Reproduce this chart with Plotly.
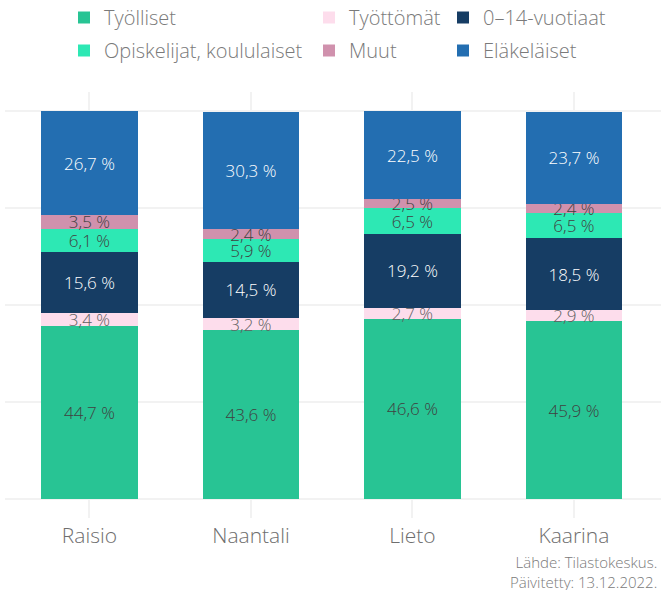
import plotly.graph_objects as go

categories = ["Raisio", "Naantali", "Lieto", "Kaarina"]

tyolliset = [44.7, 43.6, 46.6, 45.9]
tyottomat = [3.4, 3.2, 2.7, 2.9]
lapset = [15.6, 14.5, 19.2, 18.5]
opiskelijat = [6.1, 5.9, 6.5, 6.5]
muut = [3.5, 2.4, 2.5, 2.4]
elakelaiset = [26.7, 30.3, 22.5, 23.7]

series = [
    ("Työlliset", tyolliset, "#28C494", "#404040", "legend"),
    ("Työttömät", tyottomat, "#FDDDEC", "#606060", "legend2"),
    ("0–14-vuotiaat", lapset, "#163D64", "#FFFFFF", "legend3"),
    ("Opiskelijat, koululaiset", opiskelijat, "#2DE8B4", "#404040", "legend"),
    ("Muut", muut, "#D091AD", "#404040", "legend2"),
    ("Eläkeläiset", elakelaiset, "#236EB1", "#FFFFFF", "legend3"),
]

FONT = "Open Sans"

def fmt(v):
    return f"{v:.1f}".replace(".", ",") + " %"

fig = go.Figure()
for i, (name, vals, color, tcolor, leg) in enumerate(series):
    fig.add_trace(go.Bar(
        name=name,
        x=categories,
        y=vals,
        marker=dict(color=color, line=dict(width=0)),
        text=[fmt(v) for v in vals],
        textposition="inside",
        insidetextanchor="middle",
        constraintext="none",
        textangle=0,
        textfont=dict(family=FONT, size=17, color=tcolor, weight=300),
        legend=leg,
        legendgroup=f"g{i}",
        hoverinfo="skip",
    ))

W, H = 661, 590
L, R, T, B = 5, 0, 92, 72
PW, PH = W - L - R, H - T - B

def px_x(x):
    return (x - L) / PW

def px_y(y):
    return (H - B - y) / PH

def legend_cfg(x_px):
    return dict(
        orientation="v",
        xref="paper", yref="paper",
        x=px_x(x_px), y=px_y(-2),
        xanchor="left", yanchor="top",
        traceorder="grouped",
        tracegroupgap=4,
        font=dict(family=FONT, size=20, color="#7A7A7A", weight=300),
        bgcolor="rgba(0,0,0,0)",
        itemclick=False, itemdoubleclick=False,
    )

fig.update_layout(
    width=W, height=H,
    barmode="stack",
    bargap=0.4,
    plot_bgcolor="white",
    paper_bgcolor="white",
    margin=dict(l=L, r=R, t=T, b=B, autoexpand=False),
    font=dict(family=FONT, color="#6E6E6E"),
    showlegend=True,
    legend=legend_cfg(64),
    legend2=legend_cfg(309),
    legend3=legend_cfg(443),
    xaxis=dict(
        type="category",
        range=[-0.523, 3.539],
        showgrid=True, gridcolor="#F2F2F2", gridwidth=2,
        showline=False, zeroline=False, ticks="",
        automargin=False,
        ticklabelstandoff=3,
        tickfont=dict(family=FONT, size=21, color="#6E6E6E", weight=300),
    ),
    yaxis=dict(
        range=[-4.8, 105],
        tickvals=[0, 25, 50, 75, 100],
        showticklabels=False,
        showgrid=True, gridcolor="#F2F2F2", gridwidth=2,
        zeroline=False, showline=False, ticks="",
        automargin=False,
    ),
    annotations=[dict(
        text="Lähde: Tilastokeskus.<br>Päivitetty: 13.12.2022.",
        xref="paper", yref="paper",
        x=px_x(659), y=px_y(550),
        xanchor="right", yanchor="top",
        align="right", showarrow=False,
        font=dict(family=FONT, size=15, color="#7A7A7A", weight=300),
    )],
)

fig.write_html(
    "out.html",
    config={"displayModeBar": False},
    post_script="document.body.style.margin='0';document.body.style.padding='0';",
)
